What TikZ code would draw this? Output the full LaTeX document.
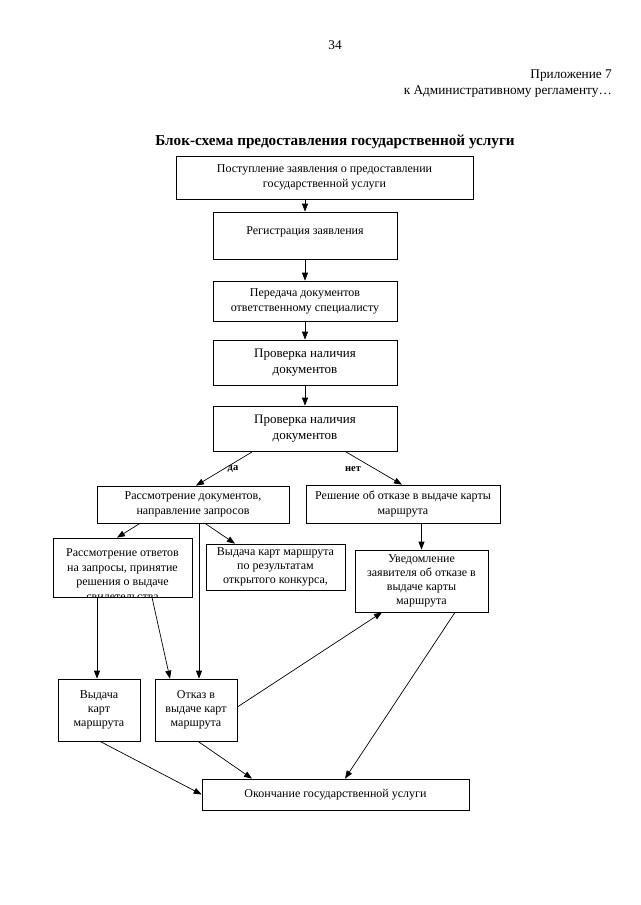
\documentclass[tikz,border=0pt]{standalone}
\usepackage{fontspec}
\setmainfont{Liberation Serif}
\usetikzlibrary{arrows.meta}
\tikzset{
  box/.style={draw, line width=0.7pt, inner sep=0pt, align=center, font=\fontsize{12}{15}\selectfont},
  bigbox/.style={box, font=\fontsize{13}{16}\selectfont},
  tbox/.style={box, font=\fontsize{12}{14}\selectfont},
  arr/.style={line width=0.7pt, -{Triangle[length=8pt,width=6pt]}},
  lbl/.style={font=\bfseries\fontsize{10.5}{12}\selectfont, inner sep=0pt},
  hdr/.style={font=\fontsize{13.3}{15}\selectfont, inner sep=0pt}
}
\begin{document}
\begin{tikzpicture}[x=1pt,y=-1pt]
\useasboundingbox (0,0) rectangle (640,905);
% header
\node[hdr] (pg) at (335,45) {34};
\node[hdr, anchor=east] (app1) at (612,76) {Приложение 7};
\node[hdr, anchor=east] (app2) at (612,92) {к Административному регламенту…};
\node[font=\bfseries\fontsize{15.2}{18}\selectfont] (title) at (335,142) {Блок-схема предоставления государственной услуги};
% boxes
\node[box, minimum width=297, minimum height=43] (b1) at (324.5,177.5) {Поступление заявления о предоставлении\\государственной услуги};
\node[box, minimum width=184, minimum height=47] (b2) at (305,235.5) {Регистрация заявления\\[-6pt]\mbox{}};
\node[box, minimum width=184, minimum height=40] (b3) at (305,301) {Передача документов\\ответственному специалисту};
\node[bigbox, minimum width=184, minimum height=45] (b4) at (305,362.5) {Проверка наличия\\документов};
\node[bigbox, minimum width=184, minimum height=45] (b5) at (305,428.5) {Проверка наличия\\документов};
\node[box, minimum width=192, minimum height=37] (b6) at (193,504.5) {Рассмотрение документов,\\направление запросов};
\node[box, minimum width=194, minimum height=38] (b7) at (403,504) {Решение об отказе в выдаче карты\\маршрута};
\node[box, minimum width=139, minimum height=59] (b8) at (122.5,567.5) {};
\begin{scope}
  \clip (b8.south west) rectangle (b8.north east);
  \node[box, draw=none, font=\fontsize{12}{14.5}\selectfont] (b8t) at (122.5,575.5) {Рассмотрение ответов\\на запросы, принятие\\решения о выдаче\\свидетельства};
\end{scope}
\node[tbox, minimum width=139, minimum height=46] (b9) at (275.5,567) {Выдача карт маршрута\\по результатам\\открытого конкурса,};
\node[tbox, minimum width=133, minimum height=62] (b10) at (421.5,581) {Уведомление\\заявителя об отказе в\\выдаче карты\\маршрута};
\node[tbox, minimum width=82, minimum height=62] (b11) at (99,710) {Выдача\\карт\\маршрута};
\node[tbox, minimum width=82, minimum height=62] (b12) at (196,710) {Отказ в\\выдаче карт\\маршрута};
\node[box, minimum width=267, minimum height=31] (b13) at (335.5,794.5) {Окончание государственной услуги};
% connectors
\draw[arr] (b1.south -| b2.north) -- (b2.north);
\draw[arr] (b2.south) -- (b3.north);
\draw[arr] (b3.south) -- (b4.north);
\draw[arr] (b4.south) -- (b5.north);
\draw[arr] ([xshift=-52pt]b5.south) -- ([xshift=3pt]b6.north);
\draw[arr] ([xshift=40pt]b5.south) -- ([xshift=-1pt]b7.north);
\node[lbl] (da) at (233,469) {да};
\node[lbl] (net) at (353,469) {нет};
\draw[arr] ([xshift=-53pt]b6.south) -- ([xshift=-5.5pt]b8.north);
\draw[arr] ([xshift=6pt]b6.south) -- ([xshift=3pt]b12.north);
\draw[arr] ([xshift=12pt]b6.south) -- ([xshift=-40.5pt]b9.north);
\draw[arr] (b10.north |- b7.south) -- (b10.north);
\draw[arr] ([xshift=-25.5pt]b8.south) -- ([xshift=-2pt]b11.north);
\draw[arr] ([xshift=29.5pt]b8.south) -- ([xshift=-26pt]b12.north);
\draw[arr] ([yshift=3pt]b12.east) -- ([xshift=-39.5pt]b10.south);
\draw[arr] ([xshift=33.5pt]b10.south) -- ([xshift=9.5pt]b13.north);
\draw[arr] ([xshift=1pt]b11.south) -- (b13.west);
\draw[arr] ([xshift=2pt]b12.south) -- ([xshift=-83.5pt]b13.north);
\end{tikzpicture}
\end{document}
